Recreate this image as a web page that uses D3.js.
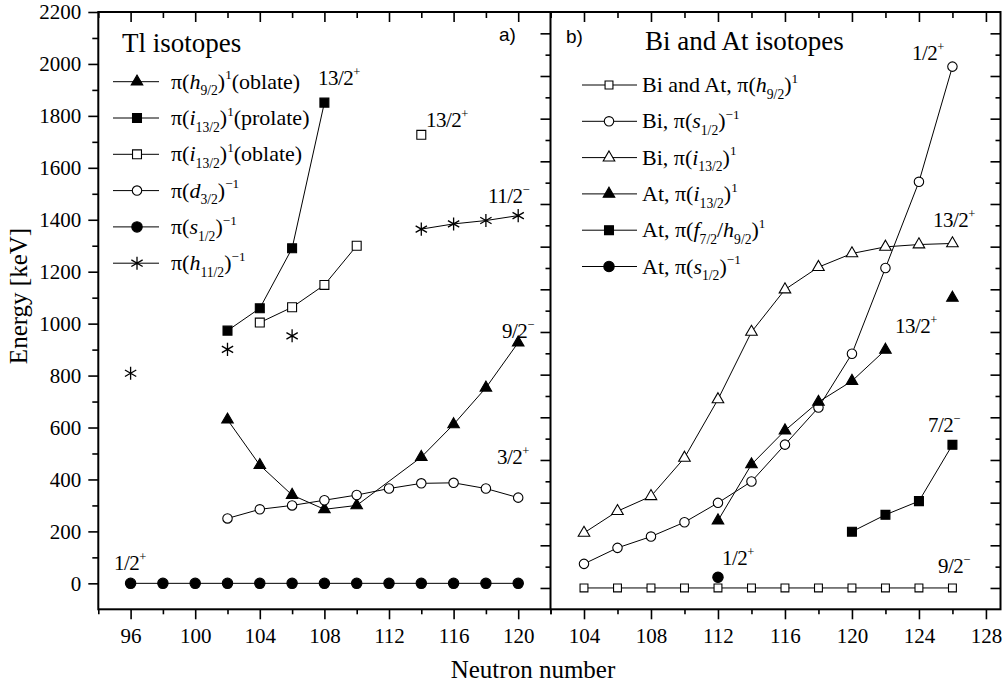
<!DOCTYPE html>
<html>
<head>
<meta charset="utf-8">
<script src="https://cdn.jsdelivr.net/npm/d3@7"></script>
<style>
  html, body { margin: 0; padding: 0; background: #fff; }
</style>
</head>
<body>
<svg id="chart" width="1003" height="686"></svg>
<script>
/* Tl (left) and Bi/At (right) single-particle state energies */

// ---- Tl isotopes, [neutron number, energy keV]
const tlH92Oblate = [[102,630],[104,455],[106,340],[108,285],[110,300],[114,486],[116,612],[118,753],[120,927]];
const tlI132Prolate = [[102,973],[104,1059],[106,1290],[108,1851]];
const tlI132Oblate = [[104,1004],[106,1063],[108,1149],[110,1300]];
const tlI132OblateLone = [[114,1727]];
const tlD32 = [[102,250],[104,285],[106,300],[108,320],[110,340],[112,365],[114,385],[116,387],[118,365],[120,330]];
const tlS12 = [[96,0],[98,0],[100,0],[102,0],[104,0],[106,0],[108,0],[110,0],[112,0],[114,0],[116,0],[118,0],[120,0]];
const tlH112 = [[114,1364],[116,1384],[118,1397],[120,1416]];
const tlH112Lone = [[96,809],[102,901],[106,953]];

// ---- Bi and At isotopes
const biAtH92 = [[104,0],[106,0],[108,0],[110,0],[112,0],[114,0],[116,0],[118,0],[120,0],[122,0],[124,0],[126,0]];
const biS12 = [[104,113],[106,188],[108,241],[110,308],[112,399],[114,499],[116,672],[118,846],[120,1098],[122,1500],[124,1904],[126,2444]];
const biI132 = [[104,258],[106,360],[108,430],[110,610],[112,884],[114,1200],[116,1399],[118,1504],[120,1568],[122,1599],[124,1610],[126,1615]];
const atI132 = [[112,316],[114,579],[116,738],[118,872],[120,970],[122,1116]];
const atI132Lone = [[126,1360]];
const atF72H92 = [[120,264],[122,343],[124,407],[126,671]];
const atS12 = [[112,50]];

// ---- tick values
const tlXMajor = [96,100,104,108,112,116,120];
const tlXMinor = [94,98,102,106,110,114,118,122];
const biXMajor = [104,108,112,116,120,124,128];
const biXMinor = [102,106,110,114,118,122,126];
const yLeftMajor = d3.range(0, 2201, 200);
const yLeftMinor = d3.range(100, 2200, 200);
const yRightMajor = d3.range(0, 2601, 200);
const yRightMinor = d3.range(100, 2700, 200);

// ---- state labels [text, sign, x px, baseline px]
const tlLabels = [["1/2","+",114,570],["13/2","+",318,85],["13/2","+",426,127],["11/2","\u2212",488,203],["9/2","\u2212",502,338],["3/2","+",497,464]];
const biLabels = [["1/2","+",912,60],["13/2","+",933,227],["13/2","+",895,333],["7/2","\u2212",928,432],["1/2","+",722,565],["9/2","\u2212",938,573]];

const SERIF = "'Liberation Serif', 'Times New Roman', Times, serif";
const SANS = "'Liberation Sans', Arial, sans-serif";

const svg = d3.select("#chart");

const plotTop = 12, plotBottom = 609.3;
const xL = d3.scaleLinear().domain([94, 122]).range([98.3, 550.5]);
const xR = d3.scaleLinear().domain([102, 128.87]).range([550.5, 1000.5]);
const yL = d3.scaleLinear().domain([-100, 2200]).range([plotBottom, plotTop]);
const yR = d3.scaleLinear().domain([-100, 2700]).range([plotBottom, plotTop]);

// sub / superscript writer
const richText = (g, x, y, parts, size) => {
  const t = g.append("text").attr("x", x).attr("y", y)
    .style("font-family", SERIF).style("font-size", `${size}px`);
  let off = 0;
  parts.forEach(([str, kind]) => {
    let target = 0, fs = size;
    if (kind === "sub") { target = size * 0.3; fs = size * 0.62; }
    if (kind === "sup") { target = -size * 0.42; fs = size * 0.6; }
    const ts = t.append("tspan").text(str).style("font-family", SERIF).style("font-size", `${fs}px`);
    if (target - off !== 0) ts.attr("dy", target - off);
    if (kind === "i") ts.style("font-style", "italic");
    off = target;
  });
  return t;
};

const symbols = {
  tri: d3.symbol().type(d3.symbolTriangle).size(58),
  sq: d3.symbol().type(d3.symbolSquare).size(80),
  sqSmall: d3.symbol().type(d3.symbolSquare).size(62),
  circ: d3.symbol().type(d3.symbolCircle).size(85),
  circOpen: d3.symbol().type(d3.symbolCircle).size(70),
  star: d3.symbol().type(d3.symbolAsterisk).size(120)
};

const marker = (g, kind, filled, x, y) => {
  g.append("path")
    .attr("d", symbols[kind]())
    .attr("transform", `translate(${x},${y})`)
    .attr("fill", kind === "star" ? "none" : (filled ? "#000" : "#fff"))
    .attr("stroke", "#000")
    .attr("stroke-width", kind === "star" ? 1.3 : 1.1);
};

const drawSeries = (g, x, y, s) => {
  const line = d3.line().x(d => x(d[0])).y(d => y(d[1]));
  (s.lines || []).forEach(seg => {
    g.append("path").attr("d", line(seg)).attr("fill", "none").attr("stroke", "#000").attr("stroke-width", 1);
  });
  [...(s.lines || []), ...(s.lone || [])].forEach(seg => {
    seg.forEach(d => marker(g, s.kind, s.filled, x(d[0]), y(d[1])));
  });
};

const tlSeries = [
  {kind: "tri", filled: true, lines: [tlH92Oblate], label: [["π("],["h","i"],["9/2","sub"],[")"],["1","sup"],["(oblate)"]]},
  {kind: "sq", filled: true, lines: [tlI132Prolate], label: [["π("],["i","i"],["13/2","sub"],[")"],["1","sup"],["(prolate)"]]},
  {kind: "sq", filled: false, lines: [tlI132Oblate], lone: [tlI132OblateLone], label: [["π("],["i","i"],["13/2","sub"],[")"],["1","sup"],["(oblate)"]]},
  {kind: "circOpen", filled: false, lines: [tlD32], label: [["π("],["d","i"],["3/2","sub"],[")"],["\u22121","sup"]]},
  {kind: "circ", filled: true, lines: [tlS12], label: [["π("],["s","i"],["1/2","sub"],[")"],["\u22121","sup"]]},
  {kind: "star", filled: false, lines: [tlH112], lone: [tlH112Lone], label: [["π("],["h","i"],["11/2","sub"],[")"],["\u22121","sup"]]}
];

const biSeries = [
  {kind: "sqSmall", filled: false, lines: [biAtH92], label: [["Bi and At, π("],["h","i"],["9/2","sub"],[")"],["1","sup"]]},
  {kind: "circOpen", filled: false, lines: [biS12], label: [["Bi, π("],["s","i"],["1/2","sub"],[")"],["\u22121","sup"]]},
  {kind: "tri", filled: false, lines: [biI132], label: [["Bi, π("],["i","i"],["13/2","sub"],[")"],["1","sup"]]},
  {kind: "tri", filled: true, lines: [atI132], lone: [atI132Lone], label: [["At, π("],["i","i"],["13/2","sub"],[")"],["1","sup"]]},
  {kind: "sq", filled: true, lines: [atF72H92], label: [["At, π("],["f","i"],["7/2","sub"],["/"],["h","i"],["9/2","sub"],[")"],["1","sup"]]},
  {kind: "circ", filled: true, lone: [atS12], label: [["At, π("],["s","i"],["1/2","sub"],[")"],["\u22121","sup"]]}
];

// ---- axes (ticks only, frame drawn after)
const axisG = svg.append("g");
const styleAxis = (sel) => {
  sel.attr("font-family", null).attr("font-size", null);
  sel.select(".domain").remove();
  sel.selectAll("line").attr("stroke", "#000").attr("stroke-width", 1.6);
  sel.selectAll("text").style("font-size", "21px").style("font-family", SERIF).attr("fill", "#000");
};
const addAxis = (gen, tx, ty) => axisG.append("g").attr("transform", `translate(${tx},${ty})`).call(gen).call(styleAxis);

// left panel
addAxis(d3.axisBottom(xL).tickValues(tlXMajor).tickSize(10).tickPadding(9).tickFormat(d3.format("d")), 0, plotBottom);
addAxis(d3.axisBottom(xL).tickValues(tlXMinor).tickSize(5).tickFormat(""), 0, plotBottom);
addAxis(d3.axisTop(xL).tickValues(tlXMajor).tickSize(-10).tickFormat(""), 0, plotTop);
addAxis(d3.axisTop(xL).tickValues(tlXMinor).tickSize(-6).tickFormat(""), 0, plotTop);
addAxis(d3.axisLeft(yL).tickValues(yLeftMajor).tickSize(10).tickPadding(7).tickFormat(d3.format("d")), xL.range()[0], 0);
addAxis(d3.axisLeft(yL).tickValues(yLeftMinor).tickSize(6).tickFormat(""), xL.range()[0], 0);

// right panel
addAxis(d3.axisBottom(xR).tickValues(biXMajor).tickSize(10).tickPadding(9).tickFormat(d3.format("d")), 0, plotBottom);
addAxis(d3.axisBottom(xR).tickValues(biXMinor).tickSize(5).tickFormat(""), 0, plotBottom);
addAxis(d3.axisTop(xR).tickValues(biXMajor).tickSize(-10).tickFormat(""), 0, plotTop);
addAxis(d3.axisTop(xR).tickValues(biXMinor).tickSize(-6).tickFormat(""), 0, plotTop);
addAxis(d3.axisLeft(yR).tickValues(yRightMajor).tickSize(10).tickFormat(""), xR.range()[0], 0);
addAxis(d3.axisLeft(yR).tickValues(yRightMinor).tickSize(5).tickFormat(""), xR.range()[0], 0);
addAxis(d3.axisRight(yR).tickValues(yRightMajor).tickSize(-10).tickFormat(""), xR.range()[1], 0);
addAxis(d3.axisRight(yR).tickValues(yRightMinor).tickSize(-5).tickFormat(""), xR.range()[1], 0);

// frame + divider
svg.append("rect")
  .attr("x", xL.range()[0]).attr("y", plotTop)
  .attr("width", xR.range()[1] - xL.range()[0]).attr("height", plotBottom - plotTop)
  .attr("fill", "none").attr("stroke", "#000").attr("stroke-width", 2);
svg.append("line")
  .attr("x1", xR.range()[0]).attr("x2", xR.range()[0]).attr("y1", plotTop).attr("y2", plotBottom)
  .attr("stroke", "#000").attr("stroke-width", 2);

// ---- data
const dataG = svg.append("g");
tlSeries.forEach(s => drawSeries(dataG, xL, yL, s));
biSeries.forEach(s => drawSeries(dataG, xR, yR, s));

// ---- legends
const legend = (series, lx0, lx1, mx, tx, y0, dy) => {
  const g = svg.append("g");
  series.forEach((s, i) => {
    const y = y0 + i * dy;
    g.append("line").attr("x1", lx0).attr("x2", lx1).attr("y1", y).attr("y2", y).attr("stroke", "#000").attr("stroke-width", 1);
    marker(g, s.kind, s.filled, mx, y);
    richText(g, tx, y + 7, s.label, 22);
  });
};
legend(tlSeries, 113, 159, 137, 171, 81.7, 36.3);
legend(biSeries, 582, 637, 609, 642, 85, 36.3);

// ---- state labels
const lblG = svg.append("g");
[...tlLabels, ...biLabels].forEach(([txt, sign, x, y]) => {
  richText(lblG, x, y, [[txt], [sign, "sup"]], 21).style("letter-spacing", "-0.5px");
});

// ---- titles
const plainText = (x, y, size, family, str) =>
  svg.append("text").attr("x", x).attr("y", y)
    .style("font-family", family).style("font-size", `${size}px`).text(str);

plainText(122, 52, 27, SERIF, "Tl isotopes");
plainText(645, 50, 27, SERIF, "Bi and At isotopes");
plainText(499, 41, 19, SANS, "a)");
plainText(566, 43, 19, SANS, "b)");

// axis titles
plainText(533, 678, 25, SERIF, "Neutron number").attr("text-anchor", "middle");
plainText(0, 0, 25, SERIF, "Energy [keV]").attr("text-anchor", "middle")
  .attr("transform", "translate(27,296) rotate(-90)");
</script>
</body>
</html>
